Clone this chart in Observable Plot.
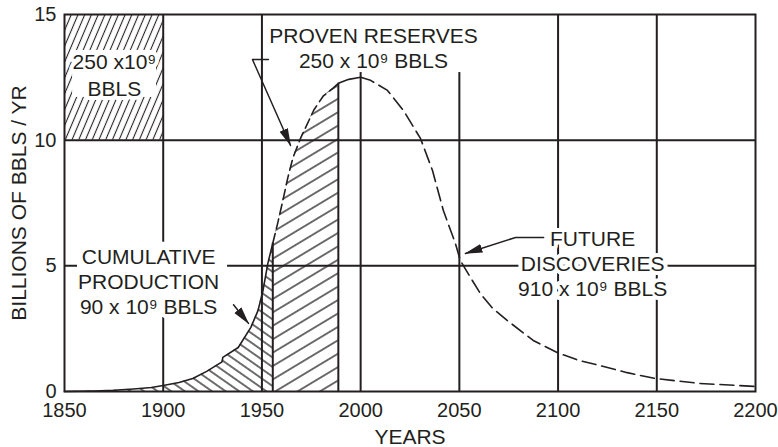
<!DOCTYPE html>
<html>
<head>
<meta charset="utf-8">
<script src="https://cdn.jsdelivr.net/npm/d3@7"></script>
<script src="https://cdn.jsdelivr.net/npm/@observablehq/plot@0.6"></script>
<style>
  html, body { margin: 0; padding: 0; background: #fff; }
</style>
</head>
<body>
<div id="chart"></div>
<script>
// ---- Data ----
const years = [1850, 1865, 1875, 1885, 1894, 1900, 1908, 1915, 1922, 1929.8, 1930.2, 1938, 1944.4, 1948, 1950.5, 1953, 1955.5, 1958, 1960.6, 1963.1, 1965.7, 1969.7, 1976.3, 1981, 1985.9, 1988.7, 1994, 2000, 2005, 2013.6, 2021.7, 2030.3, 2036.4, 2041.9, 2048, 2050.5, 2055.6, 2060.6, 2067, 2074.2, 2087.4, 2099.5, 2110, 2121.2, 2135, 2149, 2171.7, 2200];
const rates = [0, 0.02, 0.05, 0.1, 0.16, 0.24, 0.36, 0.52, 0.8, 1.18, 1.36, 1.75, 2.55, 3.22, 4.0, 5.1, 5.9, 6.7, 7.6, 8.5, 9.3, 10.1, 11.2, 11.75, 12.06, 12.26, 12.42, 12.5, 12.38, 11.98, 11.18, 10.07, 8.79, 7.2, 5.89, 5.21, 4.54, 3.9, 3.3, 2.83, 2.03, 1.55, 1.25, 1.03, 0.75, 0.52, 0.32, 0.2];

const productionEnd = 1955.5;   // end of cumulative production
const reservesEnd = 1988.7;     // end of proven reserves
const peakYear = 2000;

const xTicks = [1850, 1900, 1950, 2000, 2050, 2100, 2150, 2200];
const yTicks = [0, 5, 10, 15];
const gridYears = [1900, 1950, 2000, 2050, 2100, 2150];
const gridRates = [5, 10];

// legend box (top-left) in data units
const legendBoxX = [1850, 1900];
const legendBoxY = [10, 15];

// annotation labels
const labelTexts = ["PROVEN RESERVES\n250 x 10⁹ BBLS", "250 x10⁹\nBBLS", "CUMULATIVE\nPRODUCTION\n90 x 10⁹ BBLS", "FUTURE\nDISCOVERIES\n910 x 10⁹ BBLS"];
const labelX = [2006.5, 1875.3, 1892.6, 2117.5];
const labelY = [13.69, 12.63, 4.40, 5.1];
const labelLineHeight = [1.19, 1.29, 1.19, 1.19];

// white label backgrounds
const boxX1 = [1854.1, 1951.3, 1856.6];
const boxX2 = [1896.6, 2060, 1932.6];
const boxY1 = [11.7, 12.69, 2.95];
const boxY2 = [13.57, 15, 5.94];

// leader arrows
const leaderId = ["proven", "proven", "proven", "cumulative", "cumulative", "future", "future", "future"];
const leaderX = [1953.3, 1945.2, 1964.5, 1935.6, 1943.2, 2092.7, 2078.5, 2053.1];
const leaderY = [13.21, 13.21, 9.79, 3.45, 2.71, 6.13, 6.13, 5.49];

// ---- Derived tables ----
const curve = years.map((year, i) => ({year, rate: rates[i]}));
const production = curve.filter(d => d.year <= productionEnd);
const reserves = curve.filter(d => d.year >= productionEnd && d.year <= reservesEnd);
const plateau = curve.filter(d => d.year >= reservesEnd && d.year <= peakYear);
const future = curve.filter(d => d.year >= peakYear);
const edges = curve.filter(d => d.year === productionEnd || d.year === reservesEnd);
const labels = labelTexts.map((text, i) => ({text, x: labelX[i], y: labelY[i], lh: labelLineHeight[i]}));
const boxes = boxX1.map((x1, i) => ({x1, x2: boxX2[i], y1: boxY1[i], y2: boxY2[i]}));
const leaders = leaderId.map((id, i) => ({id, x: leaderX[i], y: leaderY[i]}));

const ink = "#231f20";
const font = "'Liberation Sans', Arial, Helvetica, sans-serif";

const plot = Plot.plot({
  width: 778,
  height: 447,
  marginLeft: 64,
  marginRight: 23,
  marginTop: 14,
  marginBottom: 56,
  style: {fontFamily: font, fontSize: "20px", color: ink, background: "#fff", overflow: "visible"},
  x: {domain: [1850, 2200], ticks: xTicks, tickSize: 0, tickPadding: 11, tickFormat: d => String(d), label: null},
  y: {domain: [0, 15], ticks: yTicks, tickSize: 0, tickPadding: 8, label: null},
  marks: [
    Plot.ruleX(gridYears, {stroke: ink, strokeWidth: 2}),
    Plot.ruleY(gridRates, {stroke: ink, strokeWidth: 2}),
    Plot.areaY(production, {x: "year", y: "rate", fill: "url(#hatch-production)"}),
    Plot.areaY(reserves, {x: "year", y: "rate", fill: "url(#hatch-reserves)"}),
    Plot.rect([0], {x1: legendBoxX[0], x2: legendBoxX[1], y1: legendBoxY[0], y2: legendBoxY[1], fill: "url(#hatch-box)"}),
    Plot.rect(boxes, {x1: "x1", x2: "x2", y1: "y1", y2: "y2", fill: "white"}),
    Plot.line(production, {x: "year", y: "rate", stroke: ink, strokeWidth: 1.6}),
    Plot.line(reserves, {x: "year", y: "rate", stroke: ink, strokeWidth: 1.6, strokeDasharray: "10,5"}),
    Plot.line(plateau, {x: "year", y: "rate", stroke: ink, strokeWidth: 1.6}),
    Plot.line(future, {x: "year", y: "rate", stroke: ink, strokeWidth: 1.6, strokeDasharray: "14,6"}),
    Plot.ruleX(edges, {x: "year", y1: 0, y2: "rate", stroke: ink, strokeWidth: 2}),
    Plot.frame({stroke: ink, strokeWidth: 2}),
    Plot.text(["YEARS"], {frameAnchor: "bottom", lineAnchor: "middle", textAnchor: "middle", dy: 46, fontSize: 21, fill: ink}),
    Plot.text(["BILLIONS OF BBLS / YR"], {frameAnchor: "left", lineAnchor: "middle", textAnchor: "middle", rotate: -90, dx: -45, fontSize: 21, fill: ink}),
    ...labels.map(l => Plot.text([l], {x: "x", y: "y", text: "text", lineHeight: l.lh, fontSize: 21, fill: ink, stroke: "white", strokeWidth: 8, paintOrder: "stroke"})),
    Plot.line(leaders, {x: "x", y: "y", z: "id", stroke: ink, strokeWidth: 1.5, markerEnd: "arrow"})
  ]
});

// hatch patterns and filled arrowheads
const svg = d3.select(plot);
const defs = svg.insert("defs", ":first-child");
function hatch(id, spacing, angle, width) {
  const p = defs.append("pattern")
    .attr("id", id)
    .attr("patternUnits", "userSpaceOnUse")
    .attr("width", spacing)
    .attr("height", spacing)
    .attr("patternTransform", `rotate(${angle})`);
  p.append("line")
    .attr("x1", spacing / 2).attr("y1", -1)
    .attr("x2", spacing / 2).attr("y2", spacing + 1)
    .attr("stroke", ink).attr("stroke-width", width);
}
hatch("hatch-production", 7.8, -55, 1.3);
hatch("hatch-reserves", 11.5, 59, 1.3);
hatch("hatch-box", 6.2, 23, 1.1);

defs.append("marker")
  .attr("id", "arrowhead")
  .attr("viewBox", "0 0 18 10")
  .attr("refX", 17)
  .attr("refY", 5)
  .attr("markerWidth", 18)
  .attr("markerHeight", 10)
  .attr("markerUnits", "userSpaceOnUse")
  .attr("orient", "auto")
  .append("path")
  .attr("d", "M0,0.5L18,5L0,9.5Z")
  .attr("fill", ink);
svg.selectAll("[marker-end]").attr("marker-end", "url(#arrowhead)");

document.getElementById("chart").appendChild(plot);
</script>
</body>
</html>
